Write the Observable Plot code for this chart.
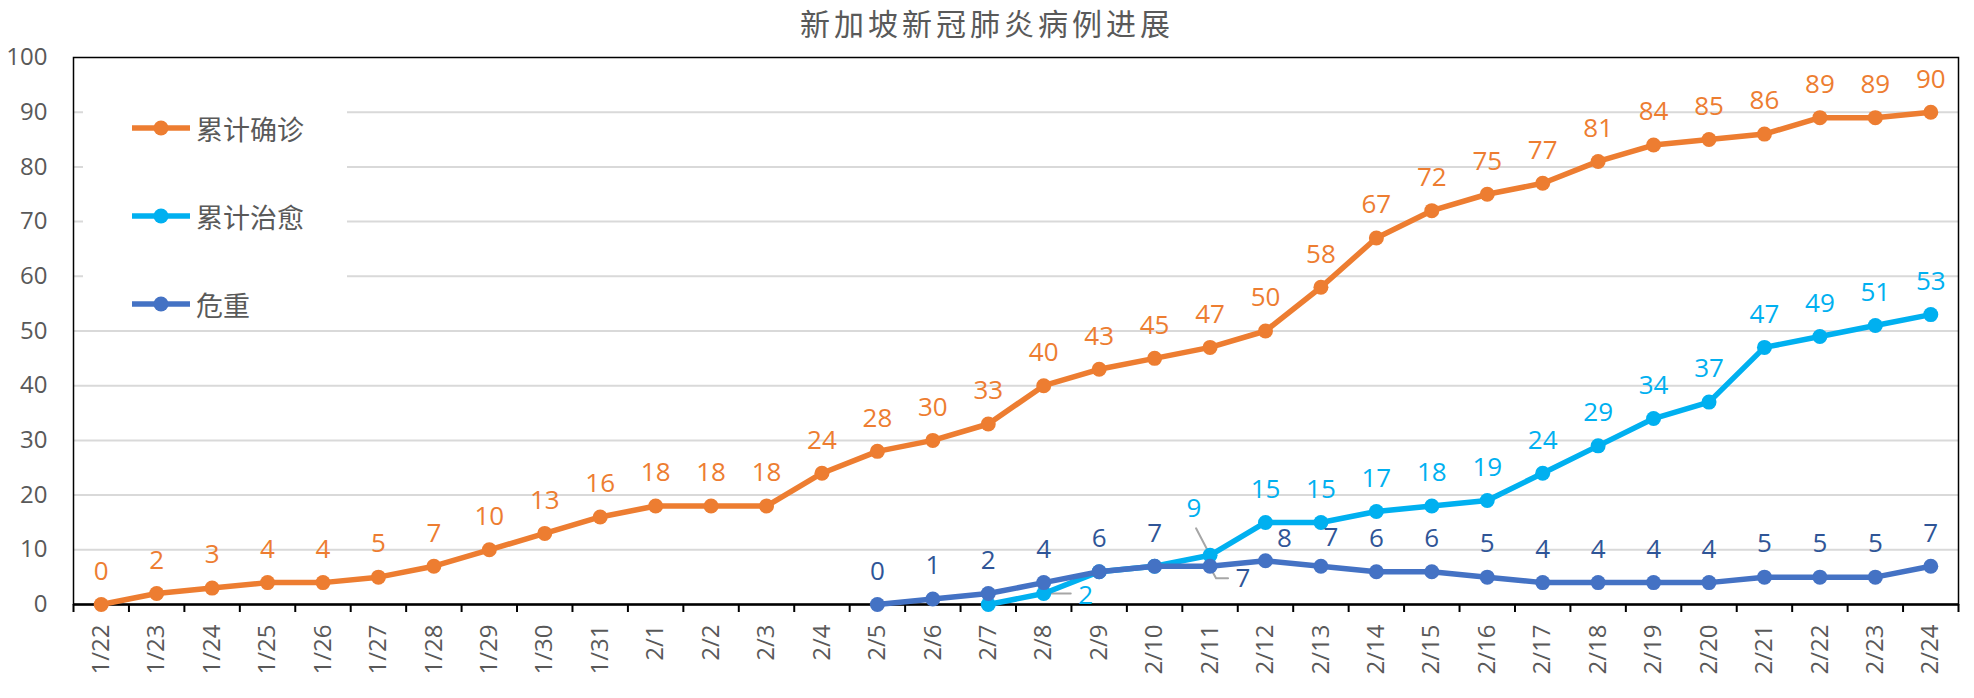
<!DOCTYPE html>
<html>
<head>
<meta charset="utf-8">
<script src="https://cdn.jsdelivr.net/npm/d3@7"></script>
<script src="https://cdn.jsdelivr.net/npm/@observablehq/plot@0.6"></script>
<style>
  html, body { margin: 0; padding: 0; background: white; }
  #wrap { position: relative; width: 1974px; height: 698px; overflow: hidden; }
  #title { height: 45px; line-height: 45px; text-align: center; font-family: "Noto Sans CJK SC", sans-serif; font-size: 30px; letter-spacing: 4px; color: #595959; }
  #legend { position: absolute; left: 83px; top: 80px; width: 264px; height: 240px; background: white; }
  .item { position: absolute; left: 0; height: 40px; display: flex; align-items: center; }
  .item span { font-family: "Noto Sans CJK SC", sans-serif; font-size: 27px; color: #595959; margin-left: 6px; }
</style>
</head>
<body>
<div id="wrap">
  <div id="title">新加坡新冠肺炎病例进展</div>
  <div id="chart"></div>
  <div id="legend"></div>
</div>
<script>
// ---- data ----
const dates = ["1/22","1/23","1/24","1/25","1/26","1/27","1/28","1/29","1/30","1/31",
  "2/1","2/2","2/3","2/4","2/5","2/6","2/7","2/8","2/9","2/10","2/11","2/12","2/13","2/14",
  "2/15","2/16","2/17","2/18","2/19","2/20","2/21","2/22","2/23","2/24"];
const seriesNames = ["累计确诊", "累计治愈", "危重"];
const confirmed = [0,2,3,4,4,5,7,10,13,16,18,18,18,24,28,30,33,40,43,45,47,50,58,67,72,75,77,81,84,85,86,89,89,90];
const recovered = [null,null,null,null,null,null,null,null,null,null,null,null,null,null,null,null,
  0,2,6,7,9,15,15,17,18,19,24,29,34,37,47,49,51,53];
const critical = [null,null,null,null,null,null,null,null,null,null,null,null,null,null,
  0,1,2,4,6,7,7,8,7,6,6,5,4,4,4,4,5,5,5,7];
const yTicks = [0,10,20,30,40,50,60,70,80,90,100];

// ---- styling / layout ----
const W = 1974, H = 653, ML = 73, MR = 16, MT = 12, MB = 94;
const colors = {line: ["#ED7D31", "#00B0F0", "#4472C4"], label: ["#ED7D31", "#00B0F0", "#2F5597"]};
const kx = (W - ML - MR) / dates.length; // px per category
const ky = (H - MT - MB) / 100;          // px per unit
const defaultOffset = [0, -33];
// special label placements (px offsets) keyed by series index and date
const special = {
  1: {"2/8": [42, 2], "2/11": [-16, -47]},
  2: {"2/11": [33, 12], "2/12": [19, -22], "2/13": [10, -29]}
};
const hidden = {1: ["2/7", "2/9", "2/10"]};
// leader lines (px offsets from the data point)
const leaders = [
  {s: 1, d: "2/8", pts: [[2, 0], [27, 0]]},
  {s: 1, d: "2/11", pts: [[-14, -27], [-2, -4]]},
  {s: 2, d: "2/11", pts: [[0, 1], [6, 12], [18, 12]]}
];

const allSeries = [confirmed, recovered, critical];
const rows = (vals) => vals.map((v, i) => ({i, v, d: dates[i]})).filter(r => r.v != null);

const marks = [
  Plot.ruleY(yTicks.filter(t => t > 0 && t < 100), {stroke: "#D9D9D9", strokeWidth: 2}),
  Plot.axisY({ticks: yTicks, tickSize: 0, tickPadding: 26, label: null, fill: "#595959", fontSize: 24}),
  Plot.axisX({ticks: d3.range(-0.5, dates.length, 1), tickSize: 8, tickFormat: () => "", label: null, stroke: "black", strokeWidth: 2}),
  Plot.axisX({ticks: d3.range(dates.length), tickSize: 0, tickPadding: 20, tickRotate: -90, tickFormat: i => dates[i], label: null, fill: "#595959", fontSize: 24}),
  Plot.frame({stroke: "black", strokeWidth: 1.5}),
  Plot.ruleY([0], {stroke: "black", strokeWidth: 2.5})
];

// leader lines first (below data)
leaders.forEach(L => {
  const i = dates.indexOf(L.d), v = allSeries[L.s][i];
  const pts = L.pts.map(([px, py]) => ({x: i + px / kx, y: v - py / ky}));
  marks.push(Plot.line(pts, {x: "x", y: "y", stroke: "#A6A6A6", strokeWidth: 2}));
});

allSeries.forEach((vals, s) => {
  const data = rows(vals);
  marks.push(Plot.line(data, {x: "i", y: "v", stroke: colors.line[s], strokeWidth: 5.5, strokeLinejoin: "round"}));
  marks.push(Plot.dot(data, {x: "i", y: "v", r: 7.5, fill: colors.line[s]}));
});

allSeries.forEach((vals, s) => {
  const data = rows(vals).filter(r => !(hidden[s] || []).includes(r.d));
  const sp = special[s] || {};
  const normal = data.filter(r => !(r.d in sp));
  marks.push(Plot.text(normal, {x: "i", y: "v", text: r => String(r.v), fill: colors.label[s], dx: defaultOffset[0], dy: defaultOffset[1], fontSize: 26}));
  data.filter(r => r.d in sp).forEach(r => {
    marks.push(Plot.text([r], {x: "i", y: "v", text: r => String(r.v), fill: colors.label[s], dx: sp[r.d][0], dy: sp[r.d][1], fontSize: 26}));
  });
});

const chart = Plot.plot({
  width: W, height: H,
  marginLeft: ML, marginRight: MR, marginTop: MT, marginBottom: MB,
  x: {domain: [-0.5, dates.length - 0.5]},
  y: {domain: [0, 100]},
  style: {fontFamily: "'Open Sans', 'Noto Sans CJK SC', sans-serif", fontSize: "24px", color: "#595959", background: "white", overflow: "visible"},
  marks
});
document.getElementById("chart").appendChild(chart);

// legend
const legend = document.getElementById("legend");
seriesNames.forEach((name, s) => {
  const item = document.createElement("div");
  item.className = "item";
  item.style.top = (28 + s * 88) + "px";
  item.style.left = "49px";
  item.innerHTML = `<svg width="58" height="20"><line x1="1" y1="10" x2="57" y2="10" stroke="${colors.line[s]}" stroke-width="5.5" stroke-linecap="round"/><circle cx="29" cy="10" r="7.5" fill="${colors.line[s]}"/></svg><span>${name}</span>`;
  legend.appendChild(item);
});
</script>
</body>
</html>
